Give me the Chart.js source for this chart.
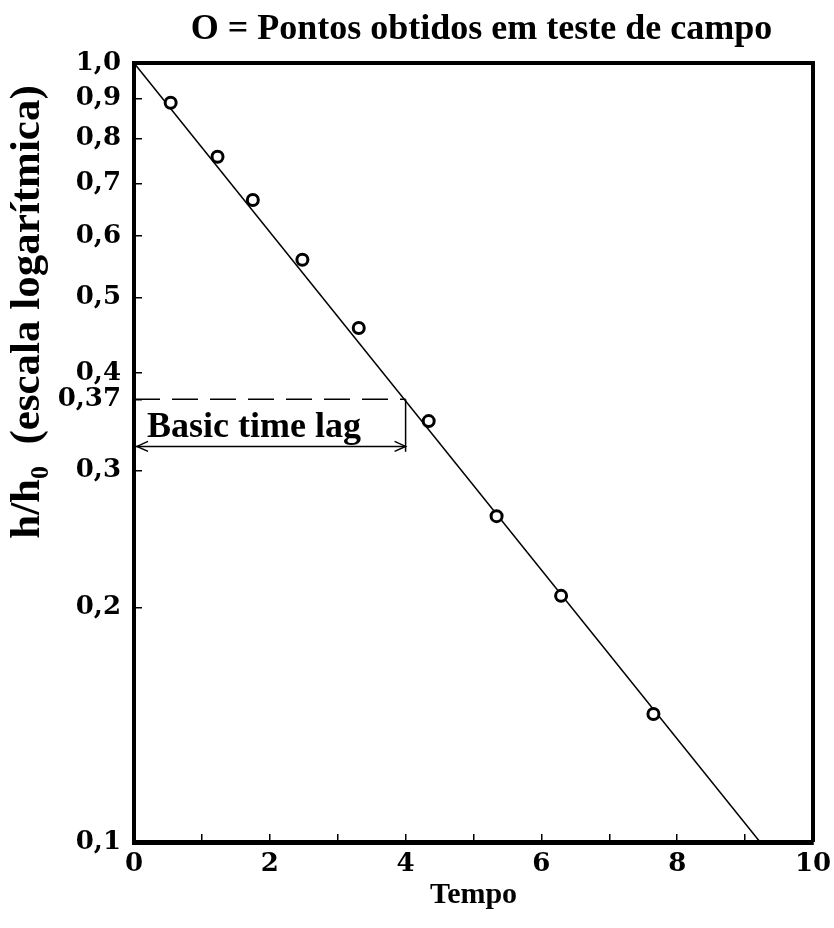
<!doctype html>
<head>
<style>
* {
    box-sizing: border-box;
    margin: 0;
    padding: 0;
}
body {
    background: white;
}
div {
    position: relative;
    width: 834px;
    height: 928px;
}
</style>
</head>
<div><canvas></canvas></div>
<script src="https://cdn.jsdelivr.net/npm/chart.js"></script>
<script>

// pontos obtidos em teste de campo
let tempo = [0.54, 1.23, 1.75, 2.48, 3.31, 4.34, 5.34, 6.29, 7.65]
let razao = [0.889, 0.758, 0.667, 0.559, 0.457, 0.347, 0.262, 0.207, 0.146]

// reta ajustada
let reta_tempo = [0, 9.22]
let reta_razao = [1.0, 0.1]

// basic time lag
let lag_tempo = 4.0
let lag_razao = 0.37
let seta_razao = 0.322
let fim_razao = 0.317

let y_ticks = [1.0, 0.9, 0.8, 0.7, 0.6, 0.5, 0.4, 0.37, 0.3, 0.2, 0.1]
let y_labels = ['1,0', '0,9', '0,8', '0,7', '0,6', '0,5', '0,4', '0,37', '0,3', '0,2', '0,1']
let x_labels = ['0', '', '2', '', '4', '', '6', '', '8', '', '10']

let titulo = 'O = Pontos obtidos em teste de campo'
let titulo_y = 'h/h\u2080  (escala logarítmica)'

let serif = '"Liberation Serif", "Times New Roman", serif'
let ticks_font = '"DejaVu Serif", serif'

let extras = {
    id: 'extras',
    afterDatasetsDraw(chart) {
        let {ctx, chartArea: a, scales: {x, y}} = chart
        ctx.save()
        ctx.strokeStyle = '#000'
        ctx.lineWidth = 4
        ctx.beginPath()
        ctx.moveTo(a.left, a.top)
        ctx.lineTo(a.right, a.top)
        ctx.lineTo(a.right, a.bottom)
        ctx.stroke()

        let ya = y.getPixelForValue(seta_razao)
        let x0 = x.getPixelForValue(0) + 3
        let x1 = x.getPixelForValue(lag_tempo)
        ctx.lineWidth = 1.5
        ctx.beginPath()
        ctx.moveTo(x0 + 11, ya - 5)
        ctx.lineTo(x0, ya)
        ctx.lineTo(x0 + 11, ya + 5)
        ctx.moveTo(x1 - 11, ya - 5)
        ctx.lineTo(x1, ya)
        ctx.lineTo(x1 - 11, ya + 5)
        ctx.stroke()

        ctx.fillStyle = '#000'
        ctx.font = 'bold 36px ' + serif
        ctx.textBaseline = 'alphabetic'
        ctx.textAlign = 'left'
        ctx.fillText('Basic time lag', x0 + 10, ya - 9)

        // titulo
        ctx.textAlign = 'center'
        ctx.textBaseline = 'middle'
        ctx.fillText(titulo, (a.left + a.right) / 2 + 8, a.top - 33)

        // titulo do eixo y
        ctx.font = 'bold 43px ' + serif
        ctx.translate(a.left - 106, a.top + 249)
        ctx.rotate(-Math.PI / 2)
        ctx.fillText(titulo_y, 0, 0)
        ctx.restore()
    },
}

let canvas = document.querySelector('canvas')

let chart = new Chart(canvas, {
    type: 'scatter',
    data: {
        datasets: [
            {
                data: tempo.map((t, i) => ({x: t, y: razao[i]})),
                pointRadius: 5.5,
                pointBorderWidth: 3,
                pointBorderColor: '#000',
                pointBackgroundColor: '#fff',
            },
            {
                type: 'line',
                data: reta_tempo.map((t, i) => ({x: t, y: reta_razao[i]})),
                borderColor: '#000',
                borderWidth: 1.5,
                pointRadius: 0,
            },
            {
                type: 'line',
                data: [{x: 0, y: lag_razao}, {x: lag_tempo, y: lag_razao}],
                borderColor: '#000',
                borderWidth: 1.5,
                borderDash: [26, 12],
                pointRadius: 0,
            },
            {
                type: 'line',
                data: [{x: lag_tempo, y: lag_razao}, {x: lag_tempo, y: fim_razao}],
                borderColor: '#000',
                borderWidth: 1.5,
                pointRadius: 0,
            },
            {
                type: 'line',
                data: [{x: 0, y: seta_razao}, {x: lag_tempo, y: seta_razao}],
                borderColor: '#000',
                borderWidth: 1.5,
                pointRadius: 0,
            },
        ],
    },
    options: {
        animation: false,
        maintainAspectRatio: false,
        layout: {
            padding: {top: 63, right: 21},
        },
        scales: {
            x: {
                type: 'linear',
                min: 0,
                max: 10,
                afterFit: s => {
                    s.height = 86
                    s.paddingLeft = 0
                    s.paddingRight = 0
                },
                border: {color: '#000', width: 5},
                grid: {
                    drawOnChartArea: false,
                    tickLength: -8,
                    color: '#000',
                    lineWidth: 1.5,
                },
                ticks: {
                    stepSize: 1,
                    padding: 17,
                    color: '#000',
                    font: {family: ticks_font, weight: 'bold', size: 26, lineHeight: 1},
                    callback: (v, i) => x_labels[i],
                },
                title: {
                    display: true,
                    text: 'Tempo',
                    color: '#000',
                    font: {family: serif, weight: 'bold', size: 30},
                    padding: {top: 0, bottom: 15},
                },
            },
            y: {
                type: 'logarithmic',
                min: 0.1,
                max: 1,
                afterFit: s => {
                    s.width = 134
                    s.paddingTop = 0
                    s.paddingBottom = 0
                },
                afterBuildTicks: s => { s.ticks = y_ticks.map(v => ({value: v})) },
                border: {color: '#000', width: 4},
                grid: {
                    drawOnChartArea: false,
                    tickLength: -8,
                    color: '#000',
                    lineWidth: 1.5,
                },
                ticks: {
                    padding: 21,
                    color: '#000',
                    font: {family: ticks_font, weight: 'bold', size: 26, lineHeight: 1},
                    callback: (v, i) => y_labels[i],
                },
            },
        },
        plugins: {
            legend: {
                display: false,
            },
            tooltip: {
                enabled: false,
            },
        },
    },
    plugins: [extras],
})

</script>
